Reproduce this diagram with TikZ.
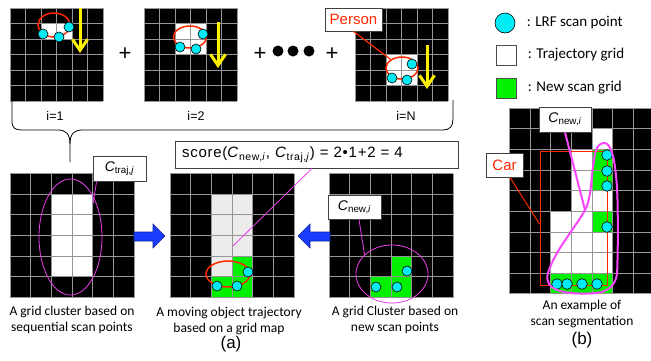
\documentclass[tikz,border=0pt]{standalone}
\usepackage{fontspec}
\setmainfont{Carlito}
\newfontfamily\arialfont{Liberation Sans}
\usetikzlibrary{positioning,shapes.geometric,arrows.meta}

\definecolor{scancyan}{RGB}{0,235,245}
\definecolor{scangreen}{RGB}{0,240,0}
\definecolor{trajgray}{RGB}{236,236,236}
\definecolor{gridgray}{RGB}{150,150,150}
\definecolor{objred}{RGB}{255,40,0}
\definecolor{clustmag}{RGB}{235,60,235}
\definecolor{segmag}{RGB}{250,70,250}
\definecolor{movearrow}{RGB}{25,60,255}

\newcommand{\Cnew}{\textit{C}\textsubscript{new,\textit{i}}}
\newcommand{\Ctraj}{\textit{C}\textsubscript{traj,\textit{j}}}

% grid helpers: x0, y0, cell size, ...
\newcommand{\gridback}[5]{\fill[black] (#1,#2) rectangle ++(#4*#3,#5*#3);}
\newcommand{\gridcells}[5]{%
  \foreach \c/\r in {#5} \fill[#4] (#1+\c*#3,#2+\r*#3) rectangle ++(#3,#3);}
\newcommand{\gridlines}[5]{%
  \foreach \k in {0,...,#4} \draw[gridline] (#1+\k*#3,#2) -- ++(0,#5*#3);
  \foreach \k in {0,...,#5} \draw[gridline] (#1,#2+\k*#3) -- ++(#4*#3,0);}

\begin{document}
\begin{tikzpicture}[x=1pt,y=-1pt]
    \tikzset{
      gridline/.style={draw=gridgray,line width=0.8pt},
      scanpt/.style={circle,draw=black,fill=scancyan,line width=0.6pt,inner sep=0pt,minimum size=10pt},
      objloop/.style={ellipse,draw=objred,line width=1.5pt,inner sep=0pt},
      clusterloop/.style={ellipse,draw=clustmag,line width=0.8pt,inner sep=0pt},
      magline/.style={draw=clustmag,line width=0.8pt},
      tagbox/.style={draw=black!75,fill=white,line width=0.8pt,inner sep=0pt,font=\arialfont\fontsize{14}{16}\selectfont},
      motion/.style={draw=yellow,line width=3pt,-{Straight Barb[length=11pt,width=15pt]}},
      caption/.style={align=center,font=\fontsize{13.5}{16}\selectfont},
      steplabel/.style={font=\arialfont\fontsize{12.5}{14}\selectfont},
      plus/.style={font=\arialfont\fontsize{22}{22}\selectfont},
      dot/.style={circle,fill=black,inner sep=0pt,minimum size=11pt},
      legendtext/.style={right=8pt of #1,font=\fontsize{15}{18}\selectfont},
      legbox/.style={draw=black!70,line width=0.8pt,inner sep=0pt,minimum size=20pt},
      blockarrow/.style={fill=movearrow,draw=movearrow!60!black,line width=0.6pt}
    }
    \useasboundingbox (0,0) rectangle (651,360);

    % sequential scans i=1 ... N
    \gridback{10}{8}{15.5}{6}{6}
    \gridcells{10}{8}{15.5}{white}{2/1,3/1}
    \gridlines{10}{8}{15.5}{6}{6}
    \gridback{144}{8}{15.5}{6}{6}
    \gridcells{144}{8}{15.5}{white}{2/1,3/1,2/2,3/2}
    \gridlines{144}{8}{15.5}{6}{6}
    \gridback{355}{8}{15.5}{6}{6}
    \gridcells{355}{8}{15.5}{white}{2/3,3/3,2/4,3/4}
    \gridlines{355}{8}{15.5}{6}{6}

    \node[objloop,minimum width=32pt,minimum height=24pt] (obj1) at (54,25) {};
    \node[objloop,minimum width=33pt,minimum height=22pt] (obj2) at (190,37) {};
    \node[objloop,minimum width=32pt,minimum height=22pt] (objN) at (402,68) {};
    \foreach \p/\q [count=\n] in {43/34,59/37,69/27}
      \node[scanpt] (a\n) at (\p,\q) {};
    \foreach \p/\q [count=\n] in {180/47,196/49,203/34}
      \node[scanpt] (b\n) at (\p,\q) {};
    \foreach \p/\q [count=\n] in {392/78,407/80,412/64}
      \node[scanpt] (c\n) at (\p,\q) {};
    \draw[motion] (80,8) -- (80,53);
    \draw[motion] (218,22) -- (218,68);
    \draw[motion] (427,45) -- (427,89);

    \node[plus] (plus1) at (125,54) {+};
    \node[plus] (plus2) at (260,54) {+};
    \node[plus] (plus3) at (332,54) {+};
    \node[dot] (dot1) at (278,51) {};
    \node[dot] (dot2) at (293,51) {};
    \node[dot] (dot3) at (309,51) {};

    \node[tagbox,text=objred,font=\arialfont\fontsize{15}{17}\selectfont,minimum width=57pt,minimum height=23pt] (person) at (353.5,19.5) {Person};
    \draw[objred,line width=1.2pt] (person.south) -- (objN);

    \node[steplabel] (lab1) at (55,116) {i=1};
    \node[steplabel] (lab2) at (196,116) {i=2};
    \node[steplabel] (labN) at (406,116) {i=N};

    % brace
    \draw[line width=0.8pt] (12,100) -- (12,121) .. controls (12,128) and (15,130) .. (22,130)
      -- (58,130) .. controls (66,130) and (70,134) .. (70,144) -- (70,162);
    \draw[line width=0.8pt] (70,144) .. controls (70,134) and (74,130) .. (82,130)
      -- (443,130) .. controls (450,130) and (453,126) .. (453,119) -- (453,100);

    % trajectory cluster, matching, new cluster
    \gridback{10}{173.5}{20.67}{6}{6}
    \gridcells{10}{173.5}{20.67}{white}{2/1,3/1,2/2,3/2,2/3,3/3,2/4,3/4}
    \gridlines{10}{173.5}{20.67}{6}{6}
    \gridback{170}{173.5}{20.67}{6}{6}
    \gridcells{170}{173.5}{20.67}{trajgray}{2/1,3/1,2/2,3/2,2/3,3/3,2/4}
    \gridcells{170}{173.5}{20.67}{scangreen}{3/4,2/5,3/5}
    \gridlines{170}{173.5}{20.67}{6}{6}
    \gridback{329}{173.5}{20.67}{6}{6}
    \gridcells{329}{173.5}{20.67}{scangreen}{3/4,2/5,3/5}
    \gridlines{329}{173.5}{20.67}{6}{6}

    \node[clusterloop,minimum width=63pt,minimum height=116pt] (trajclust) at (70.5,237) {};
    \node[clusterloop,minimum width=72pt,minimum height=58pt] (newclust) at (392,274) {};
    \node[objloop,minimum width=44pt,minimum height=26pt] (objB) at (228,274) {};
    \foreach \p/\q [count=\n] in {217/286,237/286,248/272}
      \node[scanpt] (m\n) at (\p,\q) {};
    \foreach \p/\q [count=\n] in {376/287,397/287,407/271}
      \node[scanpt] (s\n) at (\p,\q) {};

    \node[tagbox,minimum width=53pt,minimum height=25pt] (ctraj) at (119.5,168.5) {\Ctraj};
    \coordinate (ctrajend) at (93,204);
    \draw[magline] ([xshift=4pt]ctraj.south west) -- (ctrajend);
    \node[tagbox,font=\arialfont\fontsize{15}{17}\selectfont\addfontfeature{LetterSpace=5},
      inner xsep=7pt,text width=269pt,align=left,minimum height=27pt] (score) at (316.5,154.5)
      {score(\Cnew,~\Ctraj) = 2•1+2 = 4};
    \coordinate (scoreend) at (233,246);
    \draw[magline] ([xshift=-4.5pt]score.south) -- (scoreend);
    \node[tagbox,minimum width=53pt,minimum height=24pt] (cnew) at (354.5,207) {\Cnew};
    \draw[magline] ([xshift=4.5pt]cnew.south) -- (newclust.145);

    \draw[blockarrow] (134,232) -- (153,232) -- (153,224) -- (165,236) -- (153,248) -- (153,241) -- (134,241) -- cycle;
    \draw[blockarrow] (330,232) -- (310,232) -- (310,224) -- (298,236) -- (310,248) -- (310,241) -- (330,241) -- cycle;

    \node[caption] (capA) at (72,320) {A grid cluster based on\\sequential scan points};
    \node[caption] (capB) at (229,321) {A moving object trajectory\\based on a grid map};
    \node[caption] (capC) at (395,320) {A grid Cluster based on\\new scan points};
    \node[font=\arialfont\fontsize{17}{17}\selectfont] (parta) at (231,344) {(a)};

    % legend
    \node[scanpt,minimum size=20pt] (legpt) at (505,23) {};
    \node[legbox,fill=white] (legtraj) at (506,55) {};
    \node[legbox,fill=scangreen] (legnew) at (506,88) {};
    \node[legendtext=legpt] (legpttxt) {: LRF scan point};
    \node[legendtext=legtraj] (legtrajtxt) {: Trajectory grid};
    \node[legendtext=legnew] (legnewtxt) {: New scan grid};

    % scan segmentation example
    \gridback{509.3}{108}{20.65}{7}{9}
    \gridcells{509.3}{108}{20.65}{white}{4/1,3/2,3/3,3/4,4/4,2/5,3/5,2/6,3/6,4/6,2/7,3/7,4/7}
    \gridcells{509.3}{108}{20.65}{scangreen}{4/2,4/3,4/5,2/8,3/8,4/8}
    \gridlines{509.3}{108}{20.65}{7}{9}

    \node[draw=objred,line width=1pt,minimum width=67pt,minimum height=134pt,inner sep=0pt] (car) at (573.5,218) {};
    \node[tagbox,text=objred,font=\arialfont\fontsize{15}{17}\selectfont,minimum width=37pt,minimum height=24pt] (cartag) at (504.5,165) {Car};
    \draw[objred,line width=1pt] ([xshift=5.5pt]cartag.south) -- ([yshift=-6pt]car.west);
    \foreach \p/\q [count=\n] in {607/155,607/171,607/186,607/227,557/284,567/284,582/284,597/284}
      \node[scanpt,minimum size=10.6pt] (r\n) at (\p,\q) {};

    \node[tagbox,minimum width=52pt,minimum height=25pt] (cnewb) at (565,119.5) {\Cnew};
    \coordinate (segjoin) at (585,210);
    \draw[segmag,line width=2pt] (cnewb.south) -- (segjoin);
    \draw[segmag,line width=2pt] plot[smooth cycle,tension=0.6] coordinates {
      (585,210) (570,233) (557,253) (548,273) (549,284) (560,291) (580,293.5) (603,291.5)
      (615,281) (617.5,260) (617.5,200) (615,167) (611,150) (605,143) (597,148) (593,167) (590,193)};

    \node[caption] (capD) at (582,313.5) {An example of\\scan segmentation};
    \node[font=\arialfont\fontsize{17}{17}\selectfont] (partb) at (582,340) {(b)};
\end{tikzpicture}
\end{document}
